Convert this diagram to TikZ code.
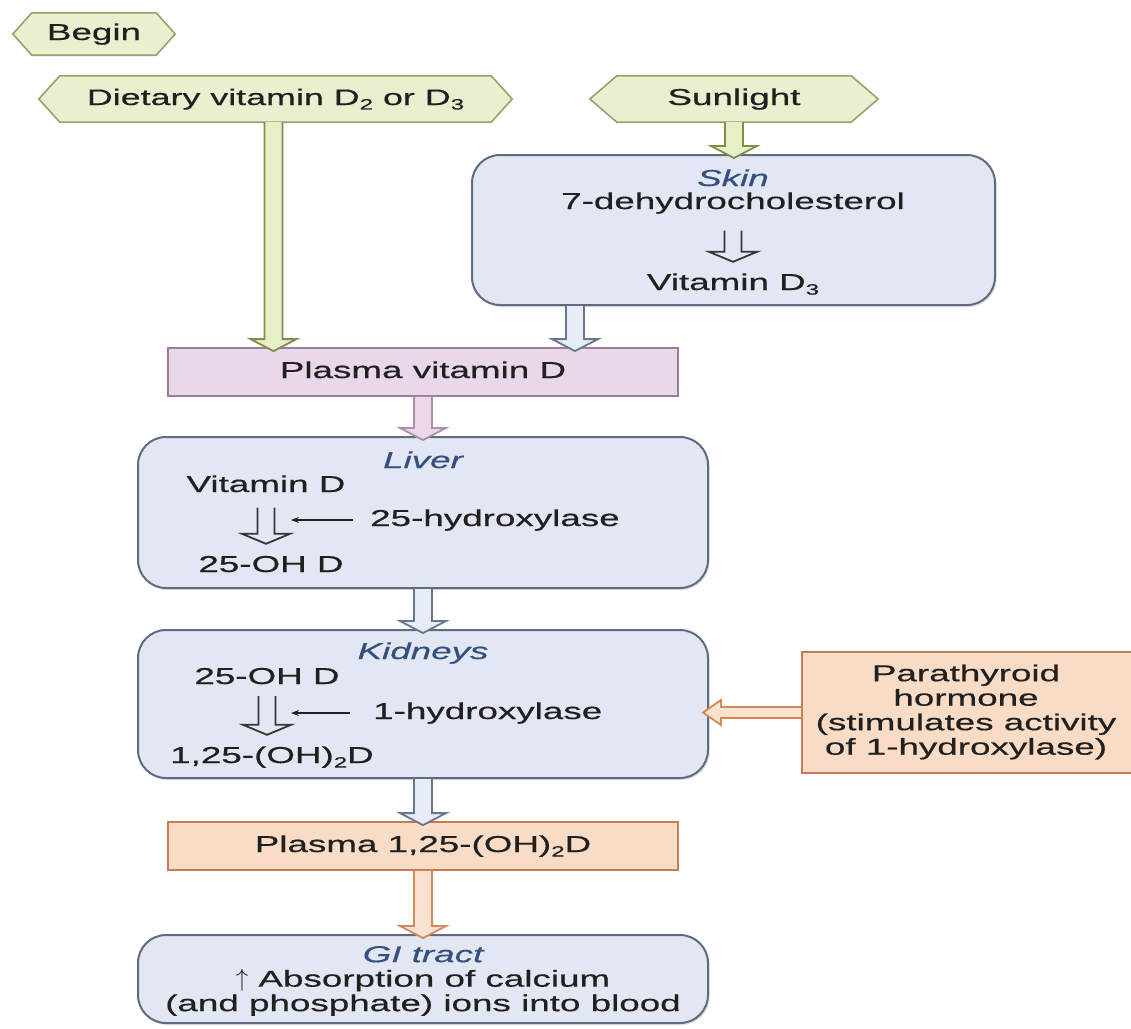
\documentclass[tikz,border=0pt]{standalone}
\usepackage{fontspec}
\setmainfont{Liberation Sans}[FakeStretch=1.6, FakeBold=0.5]
\usetikzlibrary{calc,backgrounds,arrows.meta,shadows}
\definecolor{ink}{HTML}{202020}
\definecolor{hdrblue}{HTML}{34507F}
\definecolor{hexfill}{HTML}{E9F0D0}
\definecolor{hexline}{HTML}{94A36A}
\definecolor{garfill}{HTML}{E6EFC6}
\definecolor{garline}{HTML}{7F8E48}
\definecolor{boxfill}{HTML}{E3E7F3}
\definecolor{boxline}{HTML}{5F6B80}
\definecolor{barfill}{HTML}{E8ECF6}
\definecolor{barline}{HTML}{68768E}
\definecolor{pinkfill}{HTML}{E9D8E9}
\definecolor{pinkline}{HTML}{9C7C9C}
\definecolor{parfill}{HTML}{EBD9EA}
\definecolor{parline}{HTML}{AD8FAD}
\definecolor{orfill}{HTML}{F9DCC5}
\definecolor{orline}{HTML}{C47C52}
\definecolor{oarfill}{HTML}{FBE2CF}
\definecolor{oarline}{HTML}{D4895A}
\newcommand\sbs[1]{\raisebox{-0.2em}{\fontsize{15}{15}\selectfont #1}}
\tikzset{
  txt/.style={font=\fontsize{23}{24}\selectfont, text=ink, inner sep=0pt, align=center, text height=16.5pt, text depth=4.5pt},
  mtxt/.style={font=\fontsize{23}{24.5}\selectfont, text=ink, inner sep=0pt, align=center},
  hdr/.style={txt, font=\fontsize{23}{24}\selectfont\itshape, text=hdrblue},
  organ/.style={draw=boxline, fill=boxfill, line width=2pt, rounded corners=28pt, minimum width=570pt,
    drop shadow={shadow xshift=1.5pt, shadow yshift=-2pt, opacity=0.25}},
  flatbox/.style={line width=1.8pt, minimum width=510pt, minimum height=48pt},
  pinkbox/.style={flatbox, draw=pinkline, fill=pinkfill},
  orbox/.style={flatbox, draw=orline, fill=orfill},
  hexst/.style={draw=hexline, fill=hexfill, line width=1.6pt},
  garr/.style={draw=garline, fill=garfill, line width=1.8pt, line join=miter},
  barr/.style={draw=barline, fill=barfill, line width=1.8pt, line join=miter},
  parr/.style={draw=parline, fill=parfill, line width=1.8pt, line join=miter},
  oarr/.style={draw=oarline, fill=oarfill, line width=1.8pt, line join=miter},
  smallarr/.style={draw=ink!90, line width=1.8pt, line join=miter},
  thinarr/.style={draw=ink, line width=1.5pt, -{Stealth[length=8pt,width=6pt]}},
}
\newcommand\vblk[3]{%
  \draw[#1] let \p1=(#2), \p2=(#3) in
    (\x1-9pt,\y1) -- (\x1-9pt,\y2+8pt) -- (\x1-23pt,\y2+8pt) -- (\x1,\y2-4pt)
    -- (\x1+23pt,\y2+8pt) -- (\x1+9pt,\y2+8pt) -- (\x1+9pt,\y1);}
\newcommand\hblk[3]{%
  \draw[#1] let \p1=(#2), \p2=(#3) in
    (\x1,\y1+5.5pt) -- (\x2+12pt,\y1+5.5pt) -- (\x2+12pt,\y1+12.5pt) -- (\x2-6pt,\y1)
    -- (\x2+12pt,\y1-12.5pt) -- (\x2+12pt,\y1-5.5pt) -- (\x1,\y1-5.5pt);}
\newcommand\sblk[2]{%
  \draw[smallarr] let \p1=(#1), \p2=(#2) in
    (\x1-8.5pt,\y1) -- (\x1-8.5pt,\y2+10pt) -- (\x1-24pt,\y2+10pt) -- (\x1,\y2)
    -- (\x1+24pt,\y2+10pt) -- (\x1+8.5pt,\y2+10pt) -- (\x1+8.5pt,\y1);}
\newcommand\hexdraw[2]{%
  \draw[hexst] (#1.west) -- ([xshift=#2]#1.north west) -- ([xshift=-#2]#1.north east)
    -- (#1.east) -- ([xshift=-#2]#1.south east) -- ([xshift=#2]#1.south west) -- cycle;}
\begin{document}
\begin{tikzpicture}[x=1pt, y=-1pt]
\useasboundingbox (0,0) rectangle (1131,1028);
% start nodes (hexagons drawn on background)
\node[txt, minimum width=162pt, minimum height=42pt] (begin) at (94,34) {Begin};
\node[txt, font=\fontsize{22.4}{24}\selectfont, minimum width=473pt, minimum height=46pt] (diet) at (275.5,99) {Dietary vitamin D\sbs{2} or D\sbs{3}};
\node[txt, minimum width=288pt, minimum height=46pt] (sun) at (734,99) {Sunlight};
% organ boxes
\node[organ, minimum width=523pt, minimum height=150pt] (skin) at (733.5,230) {};
\node[organ, minimum height=151pt] (liver) at (423,512.5) {};
\node[organ, minimum height=148pt] (kid) at (423,704) {};
\node[organ, minimum height=88pt] (gi) at (423,979) {};
% plasma boxes
\node[txt, pinkbox] (pl1) at (423,372) {Plasma vitamin D};
\node[txt, orbox] (pl2) at (423,846) {Plasma 1,25-(OH)\sbs{2}D};
\node[draw=orline, fill=orfill, line width=1.8pt, minimum width=338pt, minimum height=121pt] (pth) at (971,712.5) {};
\node[mtxt] (ptht) at (966,712) {Parathyroid\\hormone\\(stimulates activity\\of 1-hydroxylase)};
% texts
\node[hdr] (skinh) at (733,180) {Skin};
\node[txt] (dehyd) at (733,203) {7-dehydrocholesterol};
\node[txt] (vd3) at (733,284) {Vitamin D\sbs{3}};
\node[hdr] (liverh) at (423,462) {Liver};
\node[txt] (vitd) at (266,486) {Vitamin D};
\node[txt, anchor=west] (hyd25) at (370,520) {25-hydroxylase};
\node[txt] (ohd) at (271,566) {25-OH D};
\node[hdr] (kidh) at (423,653) {Kidneys};
\node[txt] (ohdk) at (267,678) {25-OH D};
\node[txt, anchor=west] (hyd1) at (373,713) {1-hydroxylase};
\node[txt] (dihyd) at (272,757) {1,25-(OH)\sbs{2}D};
\node[mtxt] (gitxt) at (423,981) {\textcolor{hdrblue}{\itshape GI tract}\\$\uparrow$ Absorption of calcium\\(and phosphate) ions into blood};
% background
\begin{scope}[on background layer]
  \fill[white] (0,0) rectangle (1131,1028);
  \hexdraw{begin}{19pt}
  \hexdraw{diet}{21pt}
  \hexdraw{sun}{27pt}
\end{scope}
% block arrows
\vblk{garr}{[xshift=-2pt]diet.south}{pl1.north}
\vblk{garr}{sun.south}{skin.north}
\vblk{barr}{[xshift=-158.5pt]skin.south}{pl1.north}
\vblk{parr}{pl1.south}{liver.north}
\vblk{barr}{liver.south}{kid.north}
\vblk{barr}{kid.south}{pl2.north}
\vblk{oarr}{pl2.south}{gi.north}
\hblk{oarr}{pth.west}{kid.east}
% small inner arrows
\sblk{[yshift=-17pt]dehyd.south}{[yshift=11.5pt]vd3.north}
\sblk{[yshift=-11pt]vitd.south}{[yshift=11.5pt]ohd.north}
\sblk{[yshift=-7.5pt]ohdk.south}{[yshift=11.5pt]dihyd.north}
\coordinate (lvR) at (291,520);
\coordinate (kdR) at (291,713);
\draw[thinarr] ([xshift=-17pt]hyd25.west) -- (lvR);
\draw[thinarr] ([xshift=-23pt]hyd1.west) -- (kdR);
\end{tikzpicture}
\end{document}
